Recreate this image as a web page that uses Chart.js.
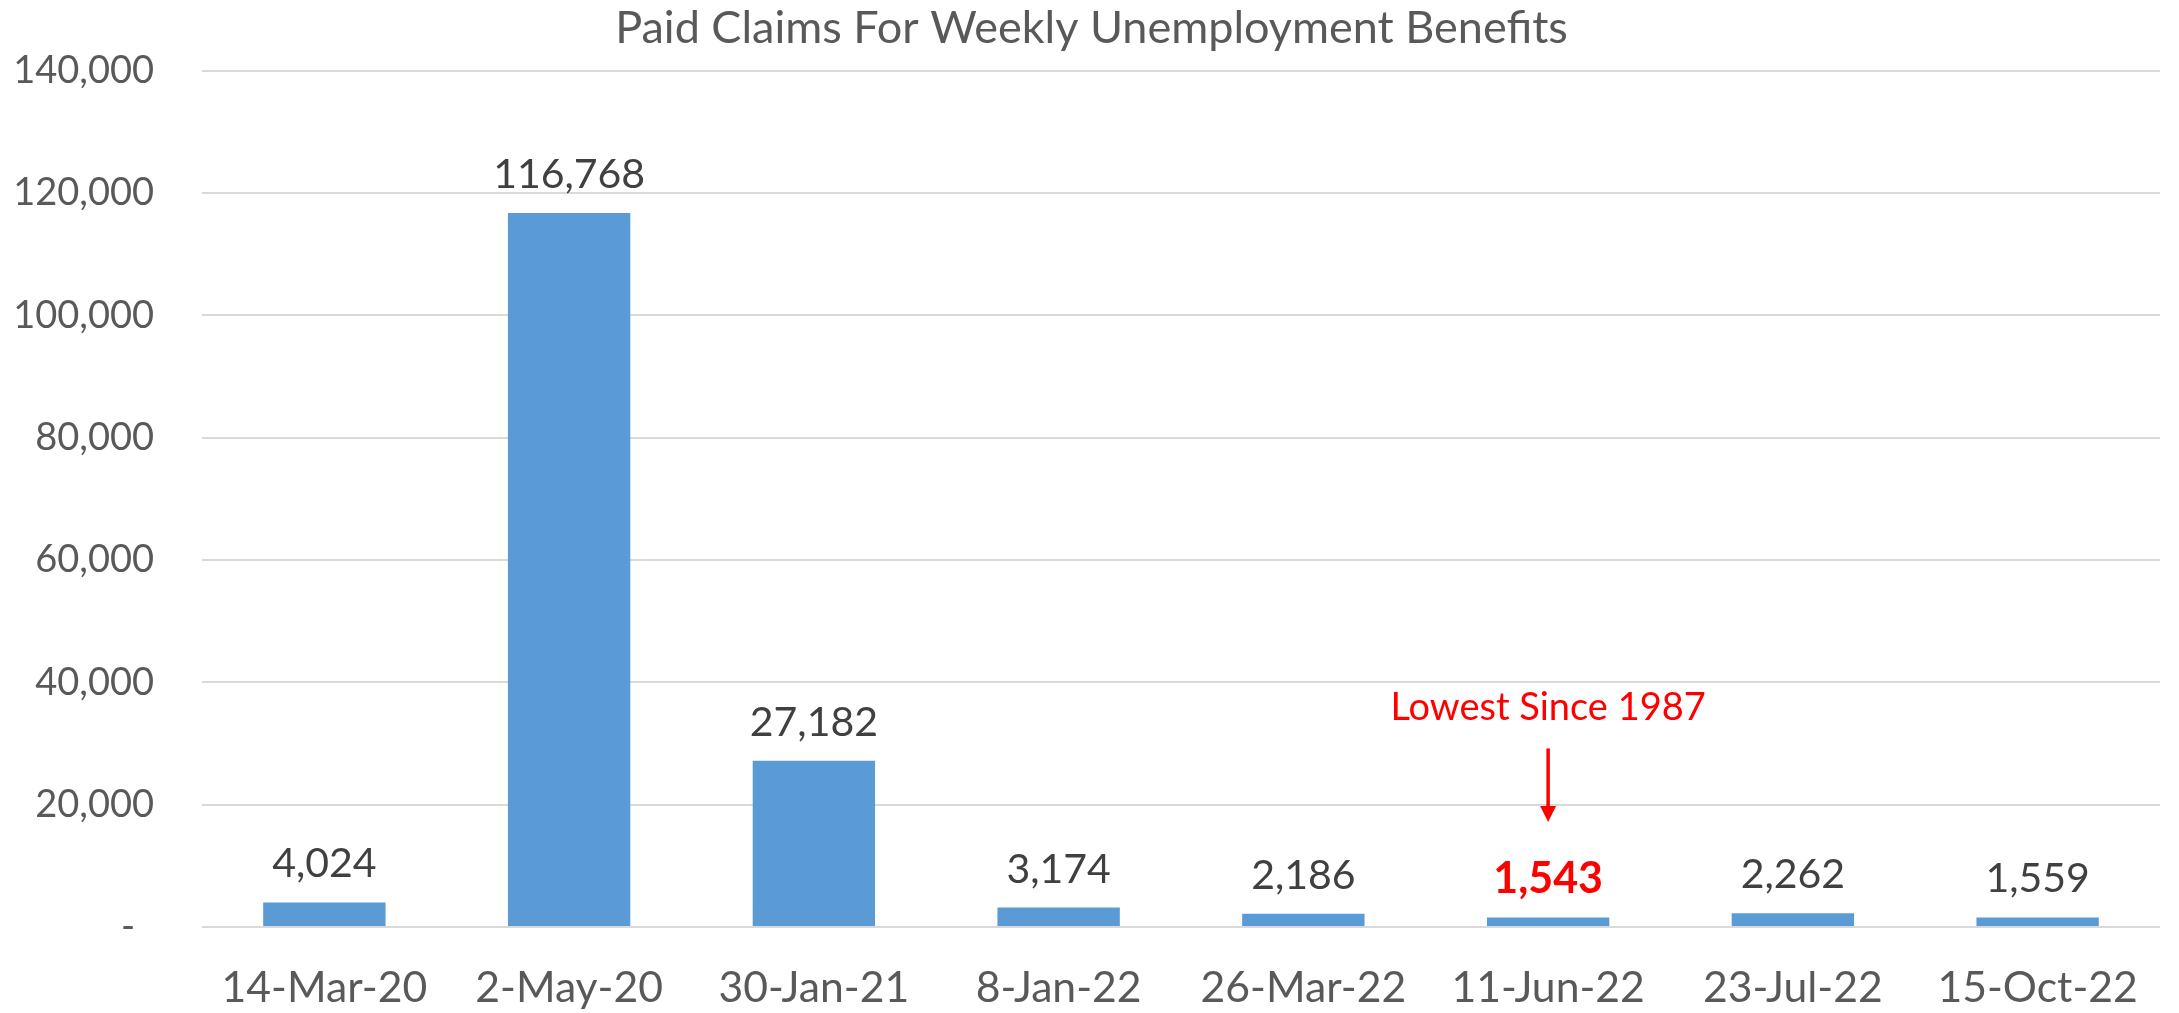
<!DOCTYPE html>
<html>
<head>
<meta charset="utf-8">
<script src="https://cdn.jsdelivr.net/npm/chart.js@4.4.0/dist/chart.umd.min.js"></script>
<style>
  html, body { margin: 0; padding: 0; background: #ffffff; }
  canvas { display: block; }
</style>
</head>
<body>
<canvas id="c" width="2179" height="1013"></canvas>
<script>
// ---- Data ----
const chartTitle = 'Paid Claims For Weekly Unemployment Benefits';
const categories = ['14-Mar-20', '2-May-20', '30-Jan-21', '8-Jan-22', '26-Mar-22', '11-Jun-22', '23-Jul-22', '15-Oct-22'];
const paidClaims = [4024, 116768, 27182, 3174, 2186, 1543, 2262, 1559];
const yTicks = [0, 20000, 40000, 60000, 80000, 100000, 120000, 140000];
const highlightIndex = 5;
const annotationText = 'Lowest Since 1987';
// annotation anchors expressed in axis values
const annotationTextValue = 35800;
const annotationArrowFrom = 29200;
const annotationArrowTo = 17150;

const FONT = 'Lato, "Open Sans", sans-serif';
const fmt = v => v.toLocaleString('en-US');

const titlePlugin = {
  id: 'customTitle',
  afterDraw(chart) {
    const ctx = chart.ctx;
    ctx.save();
    ctx.font = '45px ' + FONT;
    ctx.fillStyle = '#595959';
    ctx.textAlign = 'center';
    ctx.textBaseline = 'alphabetic';
    ctx.fillText(chartTitle, chart.width / 2 + 2, 43);
    ctx.restore();
  }
};

const labelsPlugin = {
  id: 'barLabels',
  afterDatasetsDraw(chart) {
    const ctx = chart.ctx;
    const meta = chart.getDatasetMeta(0);
    const yScale = chart.scales.y;
    ctx.save();
    ctx.textAlign = 'center';
    ctx.textBaseline = 'alphabetic';
    meta.data.forEach((bar, i) => {
      if (i === highlightIndex) {
        ctx.font = 'bold 43px ' + FONT;
        ctx.fillStyle = '#FF0000';
      } else {
        ctx.font = '41px ' + FONT;
        ctx.fillStyle = '#404040';
      }
      ctx.fillText(fmt(paidClaims[i]), bar.x, bar.y - 25);
    });
    // annotation
    const hx = meta.data[highlightIndex].x;
    ctx.font = '38px ' + FONT;
    ctx.fillStyle = '#FF0000';
    ctx.textBaseline = 'middle';
    ctx.fillText(annotationText, hx, yScale.getPixelForValue(annotationTextValue));
    const y1 = yScale.getPixelForValue(annotationArrowFrom);
    const y2 = yScale.getPixelForValue(annotationArrowTo);
    ctx.strokeStyle = '#FF0000';
    ctx.lineWidth = 3.5;
    ctx.beginPath();
    ctx.moveTo(hx, y1);
    ctx.lineTo(hx, y2 - 14);
    ctx.stroke();
    ctx.beginPath();
    ctx.moveTo(hx - 8, y2 - 16);
    ctx.lineTo(hx + 8, y2 - 16);
    ctx.lineTo(hx, y2);
    ctx.closePath();
    ctx.fill();
    ctx.restore();
  }
};

new Chart(document.getElementById('c'), {
  type: 'bar',
  data: {
    labels: categories,
    datasets: [{
      data: paidClaims,
      backgroundColor: '#5B9BD5',
      borderWidth: 0,
      barPercentage: 0.5,
      categoryPercentage: 1.0
    }]
  },
  options: {
    responsive: false,
    devicePixelRatio: 1,
    animation: false,
    layout: { padding: { left: 0, right: 19, top: 70, bottom: 0 } },
    plugins: {
      legend: { display: false },
      title: { display: false },
      tooltip: { enabled: false }
    },
    scales: {
      x: {
        grid: { display: false, drawTicks: false },
        border: { display: false },
        ticks: {
          color: '#595959',
          font: { family: FONT, size: 42.7 },
          padding: 36,
          maxRotation: 0,
          autoSkip: false
        },
        afterFit(scale) { scale.height = 86; }
      },
      y: {
        min: 0,
        max: 140000,
        afterBuildTicks(scale) { scale.ticks = yTicks.map(v => ({ value: v })); },
        grid: { color: '#D9D9D9', lineWidth: 2, drawTicks: false },
        border: { display: false },
        ticks: {
          color: '#595959',
          font: { family: FONT, size: 38 },
          padding: 48,
          callback: v => v === 0 ? '-\u2002' : fmt(v)
        },
        afterFit(scale) { scale.width = 202; }
      }
    }
  },
  plugins: [titlePlugin, labelsPlugin]
});
</script>
</body>
</html>
